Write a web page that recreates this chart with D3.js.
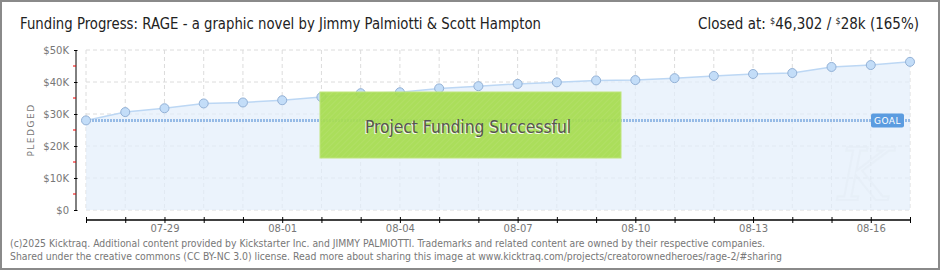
<!DOCTYPE html>
<html>
<head>
<meta charset="utf-8">
<script src="https://cdn.jsdelivr.net/npm/d3@7.9.0/dist/d3.min.js"></script>
<style>
  html, body { margin: 0; padding: 0; background: #fff; }
  svg { display: block; }
  .ax text { font-family: "DejaVu Sans", sans-serif; font-size: 10px; fill: #777; }
</style>
</head>
<body>
<div id="chart"></div>
<script>
// data
const days = ["07-27", "07-28", "07-29", "07-30", "07-31", "08-01", "08-02", "08-03",
  "08-04", "08-05", "08-06", "08-07", "08-08", "08-09", "08-10", "08-11", "08-12",
  "08-13", "08-14", "08-15", "08-16", "08-17"];
const pledged = [28000, 30600, 31800, 33300, 33600, 34300, 35300, 36500,
  36800, 38000, 38700, 39400, 39900, 40500, 40600, 41200, 41900,
  42500, 42800, 44700, 45300, 46302];
const goal = 28000;
const yTicks = [0, 10000, 20000, 30000, 40000, 50000];
const yMinor = [5000, 15000, 25000, 35000, 45000];
const xLabelDays = ["07-29", "08-01", "08-04", "08-07", "08-10", "08-13", "08-16"];

const titleText = "Funding Progress: RAGE - a graphic novel by Jimmy Palmiotti & Scott Hampton";
const footer1 = "(c)2025 Kicktraq. Additional content provided by Kickstarter Inc. and JIMMY PALMIOTTI. Trademarks and related content are owned by their respective companies.";
const footer2 = "Shared under the creative commons (CC BY-NC 3.0) license. Read more about sharing this image at www.kicktraq.com/projects/creatorownedheroes/rage-2/#sharing";

const width = 940, height = 270;
const plot = { left: 86, right: 910, top: 50, bottom: 210 };

const parse = d3.utcParse("%Y-%m-%d");
const dates = days.map((d) => parse("2025-" + d));
const data = dates.map((d, i) => ({ date: d, value: pledged[i] }));

const x = d3.scaleUtc()
  .domain(d3.extent(dates))
  .range([plot.left, plot.right]);
const y = d3.scaleLinear()
  .domain([0, 50000])
  .range([plot.bottom, plot.top]);

const svg = d3.select("#chart").append("svg")
  .attr("width", width)
  .attr("height", height);

// hatch for the success box
const defs = svg.append("defs");
const pat = defs.append("pattern")
  .attr("id", "hatch")
  .attr("patternUnits", "userSpaceOnUse")
  .attr("width", 4).attr("height", 4)
  .attr("patternTransform", "rotate(45)");
pat.append("rect").attr("width", 4).attr("height", 4).attr("fill", "#a6dc4f");
pat.append("line").attr("x1", 0).attr("y1", 0).attr("x2", 0).attr("y2", 4)
  .attr("stroke", "#b2e063").attr("stroke-width", 1.2);

// frame
svg.append("rect")
  .attr("x", 1).attr("y", 1)
  .attr("width", width - 2).attr("height", height - 2)
  .attr("fill", "#fff")
  .attr("stroke", "#8a8a8a")
  .attr("stroke-width", 2);

// title
svg.append("text")
  .attr("x", 20).attr("y", 29)
  .attr("textLength", 521).attr("lengthAdjust", "spacingAndGlyphs")
  .style("font-family", "'DejaVu Sans', sans-serif")
  .style("font-size", "15px")
  .attr("fill", "#222")
  .text(titleText);

// closed-at summary, $ signs raised; squeezed horizontally like the narrow font
const closed = svg.append("g")
  .attr("transform", "translate(919,29) scale(0.9,1)")
  .append("text")
  .attr("text-anchor", "end")
  .style("font-family", "'DejaVu Sans', sans-serif")
  .style("font-size", "15px")
  .attr("fill", "#222");
closed.append("tspan").text("Closed at: ");
closed.append("tspan").attr("dy", -5).style("font-size", "9px").text("$");
closed.append("tspan").attr("dy", 5).text(d3.format(",")(pledged[pledged.length - 1]) + " / ");
closed.append("tspan").attr("dy", -5).style("font-size", "9px").text("$");
closed.append("tspan").attr("dy", 5).text(d3.format(".0f")(goal / 1000) + "k ("
  + d3.format(".0f")(pledged[pledged.length - 1] / goal * 100) + "%)");

// gridlines
const grid = svg.append("g").attr("stroke", "#dcdcdc").attr("stroke-dasharray", "4,3");
grid.selectAll("line.h").data(yTicks).join("line")
  .attr("class", "h")
  .attr("x1", plot.left).attr("x2", plot.right)
  .attr("y1", (d) => y(d)).attr("y2", (d) => y(d));
grid.selectAll("line.v").data(dates).join("line")
  .attr("class", "v")
  .attr("x1", (d) => x(d)).attr("x2", (d) => x(d))
  .attr("y1", plot.top).attr("y2", plot.bottom);

// area + line
const area = d3.area()
  .x((d) => x(d.date))
  .y0(y(0))
  .y1((d) => y(d.value));
svg.append("path").datum(data)
  .attr("d", area)
  .attr("fill", "#e3eefb")
  .attr("fill-opacity", 0.7);

const line = d3.line().x((d) => x(d.date)).y((d) => y(d.value));
svg.append("path").datum(data)
  .attr("d", line)
  .attr("fill", "none")
  .attr("stroke", "#bcd7f4")
  .attr("stroke-width", 1.5);

// faint watermark
svg.append("text")
  .attr("x", 865).attr("y", 200)
  .attr("text-anchor", "middle")
  .style("font-family", "'DejaVu Serif', serif")
  .style("font-style", "italic")
  .style("font-size", "72px")
  .attr("fill", "none")
  .attr("stroke", "#e4ecf5")
  .attr("stroke-opacity", 0.6)
  .attr("stroke-width", 2)
  .text("K");

// goal line
svg.append("line")
  .attr("x1", plot.left).attr("x2", plot.right)
  .attr("y1", y(goal)).attr("y2", y(goal))
  .attr("stroke", "#96bbe6")
  .attr("stroke-width", 3)
  .attr("stroke-dasharray", "2,1");

// points
svg.append("g").selectAll("circle").data(data).join("circle")
  .attr("cx", (d) => x(d.date))
  .attr("cy", (d) => y(d.value))
  .attr("r", 4.5)
  .attr("fill", "#c3ddf8")
  .attr("stroke", "#93b1d6")
  .attr("stroke-width", 1);

// goal badge
const gx = x(dates[dates.length - 1]) - 39, gy = y(goal);
svg.append("rect")
  .attr("x", gx).attr("y", gy - 7)
  .attr("width", 33).attr("height", 14)
  .attr("rx", 2)
  .attr("fill", "#5b9ce0");
svg.append("text")
  .attr("x", gx + 16.5).attr("y", gy + 3.5)
  .attr("text-anchor", "middle")
  .style("font-family", "'DejaVu Sans', sans-serif")
  .style("font-size", "9px")
  .style("letter-spacing", "0.5px")
  .attr("fill", "#fff")
  .text("GOAL");

// success box
svg.append("rect")
  .attr("x", 320).attr("y", 92)
  .attr("width", 301).attr("height", 66)
  .attr("fill", "url(#hatch)")
  .attr("fill-opacity", 0.93)
  .attr("stroke", "#bfe57c")
  .attr("stroke-width", 1);
svg.append("text")
  .attr("x", 467).attr("y", 134)
  .attr("text-anchor", "middle")
  .attr("textLength", 206).attr("lengthAdjust", "spacingAndGlyphs")
  .style("font-family", "'DejaVu Sans', sans-serif")
  .style("font-size", "17px")
  .attr("fill", "#f4f9ea")
  .text("Project Funding Successful");
svg.append("text")
  .attr("x", 468).attr("y", 133)
  .attr("text-anchor", "middle")
  .attr("textLength", 206).attr("lengthAdjust", "spacingAndGlyphs")
  .style("font-family", "'DejaVu Sans', sans-serif")
  .style("font-size", "17px")
  .attr("fill", "#555")
  .text("Project Funding Successful");

// y axis
const yAxis = svg.append("g").attr("class", "ax")
  .attr("transform", "translate(76,0)")
  .call(d3.axisLeft(y).tickValues(yTicks).tickSize(2)
    .tickFormat((d) => "$" + (d === 0 ? "0" : d / 1000 + "K")));
yAxis.select(".domain").attr("stroke", "#000").attr("d", `M0,${plot.top}V${plot.bottom}`);
yAxis.selectAll(".tick line").attr("stroke", "#000").attr("x2", -2).attr("x1", 1.5);
yAxis.selectAll(".tick text").attr("x", -7);
yAxis.selectAll("line.minor").data(yMinor).join("line")
  .attr("class", "minor")
  .attr("x1", -3).attr("x2", 0)
  .attr("y1", (d) => y(d)).attr("y2", (d) => y(d))
  .attr("stroke", "#e00");

svg.append("text")
  .attr("transform", "translate(34,130) rotate(-90)")
  .attr("text-anchor", "middle")
  .style("font-family", "'DejaVu Sans', sans-serif")
  .style("font-size", "9px")
  .style("letter-spacing", "1.5px")
  .attr("fill", "#777")
  .text("PLEDGED");

// x axis
const fmt = d3.utcFormat("%m-%d");
const xAxis = svg.append("g").attr("class", "ax")
  .attr("transform", "translate(0,220)")
  .call(d3.axisBottom(x).tickValues(dates).tickSize(3)
    .tickFormat((d) => xLabelDays.includes(fmt(d)) ? fmt(d) : ""));
xAxis.select(".domain").attr("stroke", "#000").attr("stroke-width", 1.5)
  .attr("d", `M${plot.left},0H${plot.right}`);
xAxis.selectAll(".tick line").attr("stroke", "#000").attr("y1", -3).attr("y2", 3);
xAxis.selectAll(".tick text").attr("y", 5);

// footer
svg.append("text")
  .attr("x", 10).attr("y", 247)
  .attr("textLength", 755).attr("lengthAdjust", "spacingAndGlyphs")
  .style("font-family", "'DejaVu Sans', sans-serif")
  .style("font-size", "10px")
  .attr("fill", "#777")
  .text(footer1);
svg.append("text")
  .attr("x", 10).attr("y", 260)
  .attr("textLength", 772).attr("lengthAdjust", "spacingAndGlyphs")
  .style("font-family", "'DejaVu Sans', sans-serif")
  .style("font-size", "10px")
  .attr("fill", "#777")
  .text(footer2);
</script>
</body>
</html>
